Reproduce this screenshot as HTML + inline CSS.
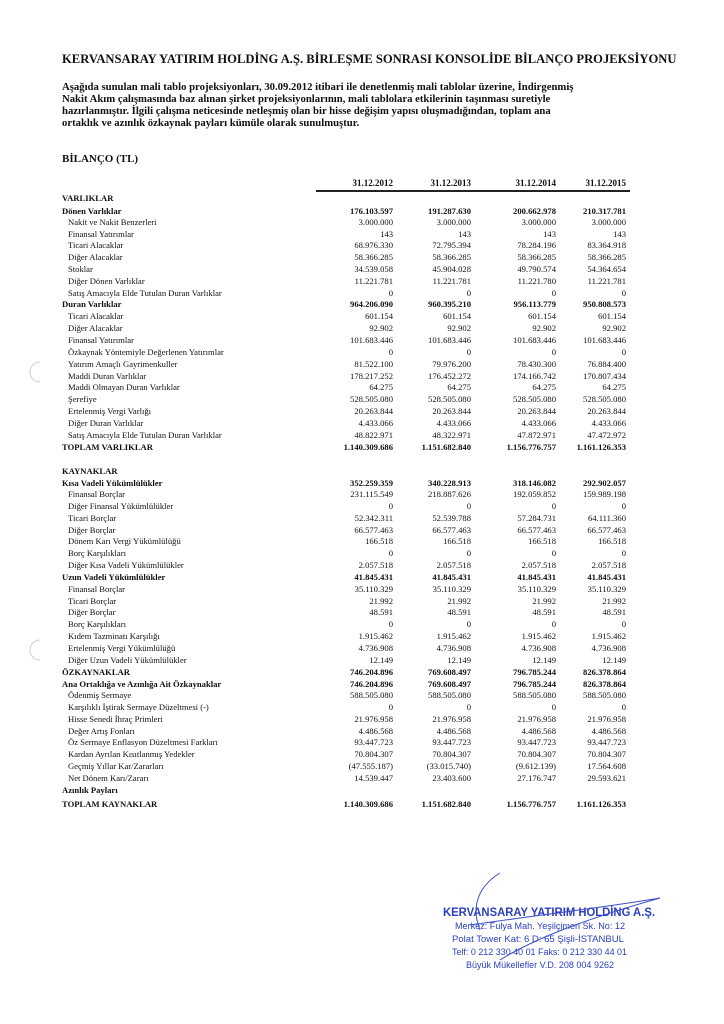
<!DOCTYPE html>
<html><head><meta charset="utf-8"><style>
body{margin:0;background:#fff;}
#p{position:relative;width:724px;height:1024px;background:#fff;font-family:"Liberation Serif",serif;color:#111;overflow:hidden}
.t{position:absolute;left:62px;top:52px;font-weight:bold;font-size:12.6px;white-space:nowrap;letter-spacing:0px}
.para{position:absolute;left:62px;top:81px;font-weight:bold;font-size:10.7px;line-height:12px;width:620px}
.bl{position:absolute;left:62px;top:153px;font-weight:bold;font-size:11px}
.hd{position:absolute;top:178px;font-weight:bold;font-size:9px;text-align:right;width:80px}
.ln{position:absolute;left:316px;top:190px;width:314px;height:1.5px;background:#222}
.r{position:absolute;left:0;width:724px;height:12px;font-size:8.6px;line-height:12px;white-space:nowrap}
.r span{position:absolute;text-align:right;width:90px}
.r .l{position:absolute;left:68px;text-align:left;width:260px}
.r.b .l{left:62px}
.r.b{font-weight:bold}
.c1{left:303px}.c2{left:381px}.c3{left:466px}.c4{left:536px}
</style></head><body><div id="p">
<div class="t">KERVANSARAY YATIRIM HOLDİNG A.Ş. BİRLEŞME SONRASI KONSOLİDE BİLANÇO PROJEKSİYONU</div>
<div class="para">Aşağıda sunulan mali tablo projeksiyonları, 30.09.2012 itibari ile denetlenmiş mali tablolar üzerine, İndirgenmiş<br>Nakit Akım çalışmasında baz alınan şirket projeksiyonlarının, mali tablolara etkilerinin taşınması suretiyle<br>hazırlanmıştır. İlgili çalışma neticesinde netleşmiş olan bir hisse değişim yapısı oluşmadığından, toplam ana<br>ortaklık ve azınlık özkaynak payları kümüle olarak sunulmuştur.</div>
<div class="bl">BİLANÇO (TL)</div>
<div class="hd" style="left:313px">31.12.2012</div>
<div class="hd" style="left:391px">31.12.2013</div>
<div class="hd" style="left:476px">31.12.2014</div>
<div class="hd" style="left:546px">31.12.2015</div>
<div class="ln"></div>

<div class="r b" style="top:192px"><div class="l">VARLIKLAR</div></div>
<div class="r b" style="top:205px"><div class="l">Dönen Varlıklar</div><span class="c1">176.103.597</span><span class="c2">191.287.630</span><span class="c3">200.662.978</span><span class="c4">210.317.781</span></div>
<div class="r" style="top:216px"><div class="l">Nakit ve Nakit Benzerleri</div><span class="c1">3.000.000</span><span class="c2">3.000.000</span><span class="c3">3.000.000</span><span class="c4">3.000.000</span></div>
<div class="r" style="top:228px"><div class="l">Finansal Yatırımlar</div><span class="c1">143</span><span class="c2">143</span><span class="c3">143</span><span class="c4">143</span></div>
<div class="r" style="top:239px"><div class="l">Ticari Alacaklar</div><span class="c1">68.976.330</span><span class="c2">72.795.394</span><span class="c3">78.284.196</span><span class="c4">83.364.918</span></div>
<div class="r" style="top:251px"><div class="l">Diğer Alacaklar</div><span class="c1">58.366.285</span><span class="c2">58.366.285</span><span class="c3">58.366.285</span><span class="c4">58.366.285</span></div>
<div class="r" style="top:263px"><div class="l">Stoklar</div><span class="c1">34.539.058</span><span class="c2">45.904.028</span><span class="c3">49.790.574</span><span class="c4">54.364.654</span></div>
<div class="r" style="top:275px"><div class="l">Diğer Dönen Varlıklar</div><span class="c1">11.221.781</span><span class="c2">11.221.781</span><span class="c3">11.221.780</span><span class="c4">11.221.781</span></div>
<div class="r" style="top:287px"><div class="l">Satış Amacıyla Elde Tutulan Duran Varlıklar</div><span class="c1">0</span><span class="c2">0</span><span class="c3">0</span><span class="c4">0</span></div>
<div class="r b" style="top:298px"><div class="l">Duran Varlıklar</div><span class="c1">964.206.090</span><span class="c2">960.395.210</span><span class="c3">956.113.779</span><span class="c4">950.808.573</span></div>
<div class="r" style="top:310px"><div class="l">Ticari Alacaklar</div><span class="c1">601.154</span><span class="c2">601.154</span><span class="c3">601.154</span><span class="c4">601.154</span></div>
<div class="r" style="top:322px"><div class="l">Diğer Alacaklar</div><span class="c1">92.902</span><span class="c2">92.902</span><span class="c3">92.902</span><span class="c4">92.902</span></div>
<div class="r" style="top:334px"><div class="l">Finansal Yatırımlar</div><span class="c1">101.683.446</span><span class="c2">101.683.446</span><span class="c3">101.683.446</span><span class="c4">101.683.446</span></div>
<div class="r" style="top:346px"><div class="l">Özkaynak Yöntemiyle Değerlenen Yatırımlar</div><span class="c1">0</span><span class="c2">0</span><span class="c3">0</span><span class="c4">0</span></div>
<div class="r" style="top:358px"><div class="l">Yatırım Amaçlı Gayrimenkuller</div><span class="c1">81.522.100</span><span class="c2">79.976.200</span><span class="c3">78.430.300</span><span class="c4">76.884.400</span></div>
<div class="r" style="top:370px"><div class="l">Maddi Duran Varlıklar</div><span class="c1">178.217.252</span><span class="c2">176.452.272</span><span class="c3">174.166.742</span><span class="c4">170.807.434</span></div>
<div class="r" style="top:381px"><div class="l">Maddi Olmayan Duran Varlıklar</div><span class="c1">64.275</span><span class="c2">64.275</span><span class="c3">64.275</span><span class="c4">64.275</span></div>
<div class="r" style="top:393px"><div class="l">Şerefiye</div><span class="c1">528.505.080</span><span class="c2">528.505.080</span><span class="c3">528.505.080</span><span class="c4">528.505.080</span></div>
<div class="r" style="top:405px"><div class="l">Ertelenmiş Vergi Varlığı</div><span class="c1">20.263.844</span><span class="c2">20.263.844</span><span class="c3">20.263.844</span><span class="c4">20.263.844</span></div>
<div class="r" style="top:417px"><div class="l">Diğer Duran Varlıklar</div><span class="c1">4.433.066</span><span class="c2">4.433.066</span><span class="c3">4.433.066</span><span class="c4">4.433.066</span></div>
<div class="r" style="top:429px"><div class="l">Satış Amacıyla Elde Tutulan Duran Varlıklar</div><span class="c1">48.822.971</span><span class="c2">48.322.971</span><span class="c3">47.872.971</span><span class="c4">47.472.972</span></div>
<div class="r b" style="top:441px"><div class="l">TOPLAM VARLIKLAR</div><span class="c1">1.140.309.686</span><span class="c2">1.151.682.840</span><span class="c3">1.156.776.757</span><span class="c4">1.161.126.353</span></div>

<div class="r b" style="top:465px"><div class="l">KAYNAKLAR</div></div>
<div class="r b" style="top:477px"><div class="l">Kısa Vadeli Yükümlülükler</div><span class="c1">352.259.359</span><span class="c2">340.228.913</span><span class="c3">318.146.082</span><span class="c4">292.902.057</span></div>
<div class="r" style="top:488px"><div class="l">Finansal Borçlar</div><span class="c1">231.115.549</span><span class="c2">218.887.626</span><span class="c3">192.059.852</span><span class="c4">159.989.198</span></div>
<div class="r" style="top:500px"><div class="l">Diğer Finansal Yükümlülükler</div><span class="c1">0</span><span class="c2">0</span><span class="c3">0</span><span class="c4">0</span></div>
<div class="r" style="top:512px"><div class="l">Ticari Borçlar</div><span class="c1">52.342.311</span><span class="c2">52.539.788</span><span class="c3">57.284.731</span><span class="c4">64.111.360</span></div>
<div class="r" style="top:524px"><div class="l">Diğer Borçlar</div><span class="c1">66.577.463</span><span class="c2">66.577.463</span><span class="c3">66.577.463</span><span class="c4">66.577.463</span></div>
<div class="r" style="top:535px"><div class="l">Dönem Karı Vergi Yükümlülüğü</div><span class="c1">166.518</span><span class="c2">166.518</span><span class="c3">166.518</span><span class="c4">166.518</span></div>
<div class="r" style="top:547px"><div class="l">Borç Karşılıkları</div><span class="c1">0</span><span class="c2">0</span><span class="c3">0</span><span class="c4">0</span></div>
<div class="r" style="top:559px"><div class="l">Diğer Kısa Vadeli Yükümlülükler</div><span class="c1">2.057.518</span><span class="c2">2.057.518</span><span class="c3">2.057.518</span><span class="c4">2.057.518</span></div>
<div class="r b" style="top:571px"><div class="l">Uzun Vadeli Yükümlülükler</div><span class="c1">41.845.431</span><span class="c2">41.845.431</span><span class="c3">41.845.431</span><span class="c4">41.845.431</span></div>
<div class="r" style="top:583px"><div class="l">Finansal Borçlar</div><span class="c1">35.110.329</span><span class="c2">35.110.329</span><span class="c3">35.110.329</span><span class="c4">35.110.329</span></div>
<div class="r" style="top:595px"><div class="l">Ticari Borçlar</div><span class="c1">21.992</span><span class="c2">21.992</span><span class="c3">21.992</span><span class="c4">21.992</span></div>
<div class="r" style="top:606px"><div class="l">Diğer Borçlar</div><span class="c1">48.591</span><span class="c2">48.591</span><span class="c3">48.591</span><span class="c4">48.591</span></div>
<div class="r" style="top:618px"><div class="l">Borç Karşılıkları</div><span class="c1">0</span><span class="c2">0</span><span class="c3">0</span><span class="c4">0</span></div>
<div class="r" style="top:630px"><div class="l">Kıdem Tazminatı Karşılığı</div><span class="c1">1.915.462</span><span class="c2">1.915.462</span><span class="c3">1.915.462</span><span class="c4">1.915.462</span></div>
<div class="r" style="top:642px"><div class="l">Ertelenmiş Vergi Yükümlülüğü</div><span class="c1">4.736.908</span><span class="c2">4.736.908</span><span class="c3">4.736.908</span><span class="c4">4.736.908</span></div>
<div class="r" style="top:654px"><div class="l">Diğer Uzun Vadeli Yükümlülükler</div><span class="c1">12.149</span><span class="c2">12.149</span><span class="c3">12.149</span><span class="c4">12.149</span></div>
<div class="r b" style="top:666px"><div class="l">ÖZKAYNAKLAR</div><span class="c1">746.204.896</span><span class="c2">769.608.497</span><span class="c3">796.785.244</span><span class="c4">826.378.864</span></div>
<div class="r b" style="top:678px"><div class="l">Ana Ortaklığa ve Azınlığa Ait Özkaynaklar</div><span class="c1">746.204.896</span><span class="c2">769.608.497</span><span class="c3">796.785.244</span><span class="c4">826.378.864</span></div>
<div class="r" style="top:689px"><div class="l">Ödenmiş Sermaye</div><span class="c1">588.505.080</span><span class="c2">588.505.080</span><span class="c3">588.505.080</span><span class="c4">588.505.080</span></div>
<div class="r" style="top:701px"><div class="l">Karşılıklı İştirak Sermaye Düzeltmesi (-)</div><span class="c1">0</span><span class="c2">0</span><span class="c3">0</span><span class="c4">0</span></div>
<div class="r" style="top:713px"><div class="l">Hisse Senedi İhraç Primleri</div><span class="c1">21.976.958</span><span class="c2">21.976.958</span><span class="c3">21.976.958</span><span class="c4">21.976.958</span></div>
<div class="r" style="top:725px"><div class="l">Değer Artış Fonları</div><span class="c1">4.486.568</span><span class="c2">4.486.568</span><span class="c3">4.486.568</span><span class="c4">4.486.568</span></div>
<div class="r" style="top:736px"><div class="l">Öz Sermaye Enflasyon Düzeltmesi Farkları</div><span class="c1">93.447.723</span><span class="c2">93.447.723</span><span class="c3">93.447.723</span><span class="c4">93.447.723</span></div>
<div class="r" style="top:748px"><div class="l">Kardan Ayrılan Kısıtlanmış Yedekler</div><span class="c1">70.804.307</span><span class="c2">70.804.307</span><span class="c3">70.804.307</span><span class="c4">70.804.307</span></div>
<div class="r" style="top:760px"><div class="l">Geçmiş Yıllar Kar/Zararları</div><span class="c1">(47.555.187)</span><span class="c2">(33.015.740)</span><span class="c3">(9.612.139)</span><span class="c4">17.564.608</span></div>
<div class="r" style="top:772px"><div class="l">Net Dönem Karı/Zararı</div><span class="c1">14.539.447</span><span class="c2">23.403.600</span><span class="c3">27.176.747</span><span class="c4">29.593.621</span></div>
<div class="r b" style="top:784px"><div class="l">Azınlık Payları</div></div>
<div class="r b" style="top:798px"><div class="l">TOPLAM KAYNAKLAR</div><span class="c1">1.140.309.686</span><span class="c2">1.151.682.840</span><span class="c3">1.156.776.757</span><span class="c4">1.161.126.353</span></div>

<svg style="position:absolute;left:0;top:0" width="724" height="1024">
<path d="M40 362 A10 10 0 0 0 40 382" fill="none" stroke="#ccc" stroke-width="1"/>
<path d="M40 640 A10 10 0 0 0 40 660" fill="none" stroke="#ccc" stroke-width="1"/>
<g font-family="Liberation Sans, sans-serif" fill="#2b3fc0">
<text x="443" y="916" font-size="11.6" font-weight="bold" textLength="212" lengthAdjust="spacingAndGlyphs">KERVANSARAY YATIRIM HOLDİNG A.Ş.</text>
<text x="455" y="929" font-size="9.6" textLength="170" lengthAdjust="spacingAndGlyphs">Merkez: Fulya Mah. Yeşilçimen Sk. No: 12</text>
<text x="452" y="942" font-size="9.6" textLength="172" lengthAdjust="spacingAndGlyphs">Polat Tower Kat: 6 D: 65   Şişli-İSTANBUL</text>
<text x="452" y="955" font-size="9.6" textLength="175" lengthAdjust="spacingAndGlyphs">Telf: 0 212 330 40 01 Faks: 0 212 330 44 01</text>
<text x="466" y="968" font-size="9.6" textLength="148" lengthAdjust="spacingAndGlyphs">Büyük Mükellefler V.D. 208 004 9262</text>
</g>
<path d="M500 873 C480 885 470 905 480 930 M470 925 C540 915 620 905 660 898 C600 915 540 935 500 960" fill="none" stroke="#3a4fc8" stroke-width="1"/>
</svg>
</div></body></html>
